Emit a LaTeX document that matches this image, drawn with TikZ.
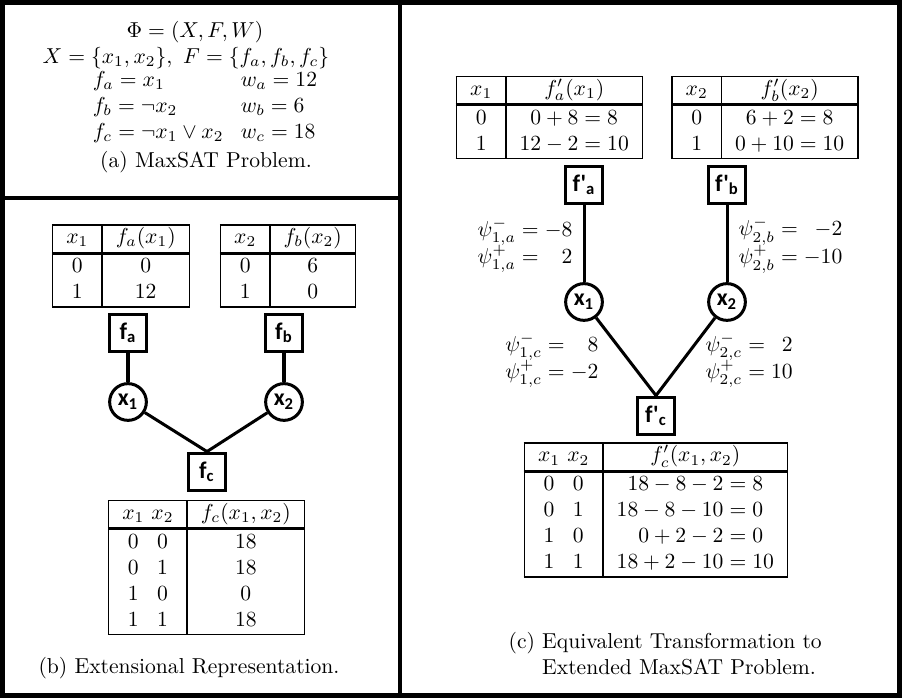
\documentclass[tikz,border=0pt]{standalone}
\usepackage{amsmath}
\usepackage{amssymb}
\usepackage{array}
\usepackage{fontspec}
\newfontfamily\nodefont{Carlito}

\setlength{\arrayrulewidth}{0.7pt}
\setlength{\doublerulesep}{0pt}

\begin{document}
\begin{tikzpicture}[x=0.463pt, y=-0.463pt,
  factor/.style={draw, rectangle, line width=1.4pt, minimum size=17.5pt, inner sep=0pt,
    font={\nodefont\bfseries\fontsize{11}{13}\selectfont}},
  var/.style={draw, circle, line width=1.4pt, minimum size=17pt, inner sep=0pt,
    font={\nodefont\bfseries\fontsize{11}{13}\selectfont}},
  link/.style={line width=1.4pt},
  frame/.style={line width=2.3pt},
  fntable/.style={inner sep=0pt}]

  \useasboundingbox (0,0) rectangle (902,698);

  % Frame and panel borders
  \draw[frame] (2.5,2.5) rectangle (899.5,695.5);
  \draw[frame] (400,2.5) -- (400,695.5);
  \draw[frame] (2.5,198) -- (400,198);

  % (a) the problem
  \node (phi)  at (195,32) {$\Phi=(X,F,W)$};
  \node (sets) at (186,58) {$X=\{x_1,x_2\},\ F=\{f_a,f_b,f_c\}$};
  \node (clauses) at (205,107) {$\begin{array}{@{}l@{\hspace{8pt}}l@{}}
      f_a=x_1 & w_a=12\\
      f_b=\neg x_2 & w_b=6\\
      f_c=\neg x_1\vee x_2 & w_c=18
    \end{array}$};
  \node (capa) at (206,162) {(a) MaxSAT Problem.};

  % (b) tables
  \node[fntable] (tfa) at (121,266) {\begin{tabular}{|c|c|}
      \hline $x_1$ & $f_a(x_1)$\\ \hline\hline
      0 & 0\\ 1 & 12\\ \hline
    \end{tabular}};
  \node[fntable] (tfb) at (288,266) {\begin{tabular}{|c|c|}
      \hline $x_2$ & $f_b(x_2)$\\ \hline\hline
      0 & 6\\ 1 & 0\\ \hline
    \end{tabular}};
  \node[fntable] (tfc) at (206.5,567.5) {\begin{tabular}{|c@{\hspace{3.3pt}}c|c|}
      \hline $x_1$ & $x_2$ & $f_c(x_1,x_2)$\\ \hline\hline
      0 & 0 & 18\\ 0 & 1 & 18\\ 1 & 0 & 0\\ 1 & 1 & 18\\ \hline
    \end{tabular}};

  % (b) factor graph
  \node[factor] (fa) at (128,333) {f\textsubscript{a}};
  \node[factor] (fb) at (284,333) {f\textsubscript{b}};
  \node[var]    (x1) at (128,402) {x\textsubscript{1}};
  \node[var]    (x2) at (284,402) {x\textsubscript{2}};
  \node[factor] (fc) at (207,472) {f\textsubscript{c}};

  \draw[link] (fa) -- (x1);
  \draw[link] (fb) -- (x2);
  \draw[link] (x1) -- (fc.north);
  \draw[link] (x2) -- (fc.north);

  \node (capb) at (189,668) {(b) Extensional Representation.};

  % (c) tables
  \node[fntable] (tfa') at (549.5,117.5) {\begin{tabular}{|c|c|}
      \hline $x_1$ & $f'_a(x_1)$\\ \hline\hline
      0 & $0+8=8$\\ 1 & $12-2=10$\\ \hline
    \end{tabular}};
  \node[fntable] (tfb') at (765,117.5) {\begin{tabular}{|c|c|}
      \hline $x_2$ & $f'_b(x_2)$\\ \hline\hline
      0 & $6+2=8$\\ 1 & $0+10=10$\\ \hline
    \end{tabular}};
  \node[fntable] (tfc') at (656,510) {\begin{tabular}{|c@{\hspace{3.3pt}}c|r@{}l|}
      \hline $x_1$ & $x_2$ & \multicolumn{2}{c|}{$f'_c(x_1,x_2)$}\\ \hline\hline
      0 & 0 & $18-8-2$ & ${}=8$\\
      0 & 1 & $18-8-10$ & ${}=0$\\
      1 & 0 & $0+2-2$ & ${}=0$\\
      1 & 1 & $18+2-10$ & ${}=10$\\ \hline
    \end{tabular}};

  % (c) factor graph
  \node[factor] (fa') at (584,185) {f'\textsubscript{a}};
  \node[factor] (fb') at (727,185) {f'\textsubscript{b}};
  \node[var]    (x1') at (584,302) {x\textsubscript{1}};
  \node[var]    (x2') at (727,302) {x\textsubscript{2}};
  \node[factor] (fc') at (656,416) {f'\textsubscript{c}};

  \draw[link] (fa') -- (x1');
  \draw[link] (fb') -- (x2');
  \draw[link] (x1') -- (fc'.north);
  \draw[link] (x2') -- (fc'.north);

  % messages on the edges
  \node[anchor=east] (psi1a) at (580,245) {$\begin{array}{@{}l@{{}={}}r@{}}
      \psi^-_{1,a} & -8\\ \psi^+_{1,a} & 2\end{array}$};
  \node[anchor=west] (psi2b) at (731,245) {$\begin{array}{@{}l@{{}={}}r@{}}
      \psi^-_{2,b} & -2\\ \psi^+_{2,b} & -10\end{array}$};
  \node[anchor=east] (psi1c) at (606,360) {$\begin{array}{@{}l@{{}={}}r@{}}
      \psi^-_{1,c} & 8\\ \psi^+_{1,c} & -2\end{array}$};
  \node[anchor=west] (psi2c) at (698,360) {$\begin{array}{@{}l@{{}={}}r@{}}
      \psi^-_{2,c} & 2\\ \psi^+_{2,c} & 10\end{array}$};

  \node[anchor=west] (capc) at (501,656) {\begin{tabular}{@{}l@{ }l@{}}
      (c) & Equivalent Transformation to\\
          & Extended MaxSAT Problem.
    \end{tabular}};

\end{tikzpicture}
\end{document}
